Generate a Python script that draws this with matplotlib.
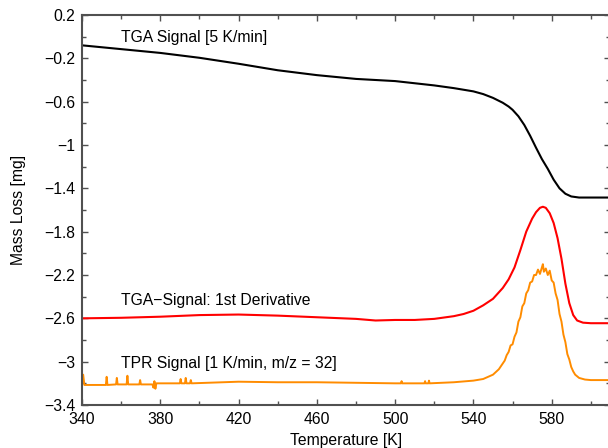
import matplotlib
matplotlib.use("Agg")
import matplotlib.pyplot as plt
from matplotlib.ticker import MultipleLocator, FuncFormatter

plt.rcParams['font.family'] = ['Liberation Sans', 'DejaVu Sans']

# TGA mass signal [mg] vs temperature [K]
tga_T = [340, 360, 380, 400, 420, 440, 460, 480, 500, 520, 530, 540, 545, 550,
         555, 558, 560, 563, 566, 569, 572, 575, 578, 581, 584, 587, 590, 594, 600, 610]
tga_mg = [-0.08, -0.115, -0.15, -0.195, -0.25, -0.31, -0.355, -0.39, -0.41, -0.45,
          -0.475, -0.505, -0.53, -0.565, -0.61, -0.645, -0.675, -0.735, -0.815, -0.915,
          -1.025, -1.13, -1.22, -1.32, -1.40, -1.45, -1.475, -1.485, -1.485, -1.485]

# first derivative of the TGA signal (shifted/scaled)
dtg_T = [340, 360, 380, 400, 420, 440, 460, 480, 490, 500, 510, 520, 530, 535,
         540, 545, 550, 555, 558, 561, 564, 567, 570, 572, 574, 575.5, 577, 579,
         581, 583, 585, 587, 589, 591, 593, 596, 600, 610]
dtg_mg = [-2.60, -2.595, -2.585, -2.57, -2.565, -2.575, -2.59, -2.605, -2.62, -2.615,
          -2.615, -2.605, -2.58, -2.56, -2.53, -2.48, -2.42, -2.32, -2.24, -2.13,
          -1.97, -1.80, -1.68, -1.62, -1.58, -1.57, -1.58, -1.63, -1.72, -1.86,
          -2.05, -2.28, -2.46, -2.57, -2.62, -2.64, -2.645, -2.645]

# TPR signal, m/z = 32
tpr_T = [340, 340.6, 341.2, 345, 352.2, 352.6, 353, 357.4, 357.8, 358.2, 362.8,
         363.2, 363.6, 369.3, 369.7, 370.1, 376, 376.5, 377, 377.5, 378, 390,
         390.4, 390.8, 392.6, 393, 393.4, 395.2, 395.6, 396, 420, 440, 460, 480,
         500, 503, 503.3, 503.6, 515, 515.3, 515.6, 517, 517.3, 517.6, 530, 540,
         545, 550, 553, 556, 557, 558, 559, 560, 561, 562, 563, 564, 565, 566,
         567, 568, 569, 570, 571, 572, 573, 574, 575, 575.5, 576, 577, 578, 579,
         580, 581, 582, 583, 584, 585, 586, 587, 588, 589, 590, 591, 592, 594,
         597, 600, 610]
tpr_mg = [-3.215, -3.12, -3.215, -3.215, -3.215, -3.14, -3.215, -3.21, -3.15, -3.21,
          -3.21, -3.13, -3.21, -3.21, -3.17, -3.21, -3.21, -3.24, -3.18, -3.25,
          -3.20, -3.20, -3.16, -3.20, -3.20, -3.15, -3.20, -3.20, -3.17, -3.20,
          -3.185, -3.19, -3.19, -3.195, -3.20, -3.20, -3.18, -3.20, -3.20, -3.18,
          -3.20, -3.20, -3.175, -3.20, -3.19, -3.175, -3.16, -3.12, -3.07, -2.99,
          -2.94, -2.91, -2.85, -2.84, -2.77, -2.73, -2.63, -2.59, -2.49, -2.46,
          -2.37, -2.34, -2.27, -2.26, -2.20, -2.20, -2.15, -2.19, -2.13, -2.10,
          -2.17, -2.14, -2.20, -2.16, -2.25, -2.27, -2.37, -2.43, -2.56, -2.63,
          -2.75, -2.82, -2.93, -2.98, -3.05, -3.09, -3.12, -3.15, -3.165, -3.17,
          -3.17]

fig = plt.figure(figsize=(6.08, 4.48), dpi=100)
ax = fig.add_axes([82 / 608, 43 / 448, 528.4 / 608, 390 / 448])

ax.plot(tga_T, tga_mg, color='black', lw=1.5)
ax.plot(dtg_T, dtg_mg, color='#ff0000', lw=1.5)
ax.plot(tpr_T, tpr_mg, color='#ff8c00', lw=1.4)

ax.text(360, -0.01, 'TGA Signal [5 K/min]', fontsize=11.3, va='center')
ax.text(360, -2.437, 'TGA\u2212Signal: 1st Derivative', fontsize=11.3, va='center')
ax.text(360, -3.015, 'TPR Signal [1 K/min, m/z = 32]', fontsize=11.3, va='center')

ax.set_xlim(340, 610)
ax.set_ylim(-3.4, 0.2)
ax.xaxis.set_major_locator(MultipleLocator(40, offset=20))
ax.xaxis.set_minor_locator(MultipleLocator(20))
ax.yaxis.set_major_locator(MultipleLocator(0.4, offset=0.2))
ax.yaxis.set_minor_locator(MultipleLocator(0.2))
ax.yaxis.set_major_formatter(FuncFormatter(lambda v, p: ('%g' % round(v, 2)).replace('-', '\u2212')))

spine_col = '#505050'
for s in ax.spines.values():
    s.set_color(spine_col)
    s.set_linewidth(1.5)
ax.tick_params(which='both', direction='in', top=True, right=True,
               color=spine_col, labelsize=11.3, labelcolor='black')
ax.tick_params(which='major', length=4, width=1, pad=5)
ax.tick_params(which='minor', length=3, width=1)

ax.set_xlabel('Temperature [K]', fontsize=11.3, labelpad=4)
ax.set_ylabel('Mass Loss [mg]', fontsize=11.3, labelpad=13)

fig.savefig('out.png', dpi=100)
